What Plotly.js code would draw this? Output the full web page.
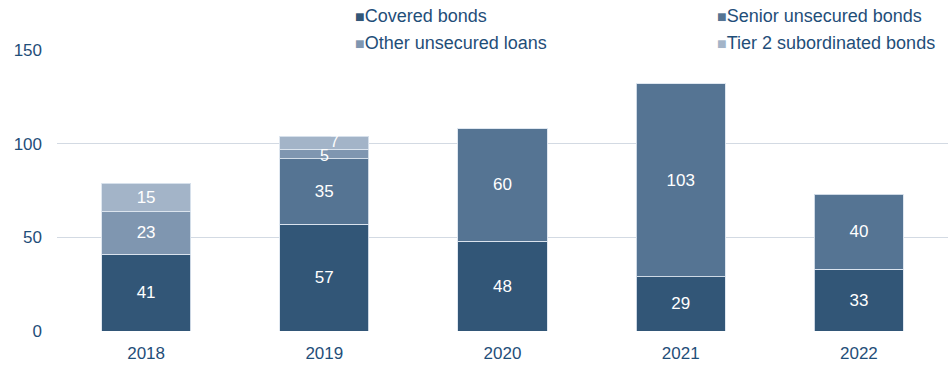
<!DOCTYPE html>
<html>
<head>
<meta charset="utf-8">
<script src="https://cdn.plot.ly/plotly-3.0.1.min.js"></script>
<style>html,body{margin:0;padding:0;background:#fff;}#chart{width:948px;height:365px;}</style>
</head>
<body>
<div id="chart"></div>
<script>
const years = ['2018', '2019', '2020', '2021', '2022'];
const seriesNames = ['Covered bonds', 'Senior unsecured bonds', 'Other unsecured loans', 'Tier 2 subordinated bonds'];
const coveredBonds = [41, 57, 48, 29, 33];
const seniorUnsecured = [null, 35, 60, 103, 40];
const otherUnsecuredLoans = [23, 5, null, null, null];
const tier2Subordinated = [15, 7, null, null, null];
const yTicks = [0, 50, 100, 150];

const colors = ['#325677', '#557493', '#7f96b0', '#a3b4c8'];
const seriesValues = [coveredBonds, seniorUnsecured, otherUnsecuredLoans, tier2Subordinated];
const font = 'Liberation Sans, Arial, sans-serif';
const textColor = '#1f4e79';
const SMALL = 10;

const traces = seriesValues.map((vals, i) => ({
  type: 'bar',
  name: seriesNames[i],
  x: years,
  y: vals,
  marker: {color: colors[i], line: {color: 'rgba(220,228,238,0.9)', width: 1}},
  text: vals.map(v => (v == null || v < SMALL) ? '' : String(v)),
  textposition: 'inside',
  insidetextanchor: 'middle',
  textangle: 0,
  constraintext: 'none',
  textfont: {family: font, size: 17, color: '#ffffff'},
  hoverinfo: 'x+y+name',
  showlegend: false
}));

// labels of thin segments, placed as annotations at segment centres (offset like the reference)
const annotations = [];
years.forEach((yr, j) => {
  let base = 0;
  seriesValues.forEach((vals, i) => {
    const v = vals[j];
    if (v == null) return;
    if (v < SMALL) {
      const isTop = seriesValues.slice(i + 1).every(s => s[j] == null);
      annotations.push({
        x: j, y: base + v / 2, xref: 'x', yref: 'y',
        showarrow: false, text: String(v),
        xshift: isTop ? 10 : 0, yshift: isTop ? 1 : -2,
        font: {family: font, size: 16, color: '#ffffff'}
      });
    }
    base += v;
  });
});

// legend drawn as annotations (2 columns)
const legendPos = [
  {x: 353, y: 16}, {x: 715, y: 16},
  {x: 353, y: 43}, {x: 715, y: 43}
];
seriesNames.forEach((n, i) => annotations.push({
  xref: 'paper', yref: 'paper',
  x: (legendPos[i].x - 57) / 891,
  y: 1 + (50 - legendPos[i].y) / 281,
  xanchor: 'left', yanchor: 'middle',
  showarrow: false,
  text: '<span style="color:' + colors[i] + ';font-size:16px">■</span>' + n,
  font: {family: font, size: 18, color: textColor}
}));

const layout = {
  width: 948, height: 365,
  margin: {l: 57, r: 0, t: 50, b: 34},
  paper_bgcolor: '#ffffff', plot_bgcolor: '#ffffff',
  barmode: 'stack',
  bargap: 0.5,
  showlegend: false,
  xaxis: {
    type: 'category',
    categoryarray: years,
    range: [-0.5, years.length - 0.5],
    tickfont: {family: font, size: 17, color: textColor},
    showgrid: false, zeroline: false, showline: false,
    ticks: '', ticklen: 0, ticklabelstandoff: 10
  },
  yaxis: {
    range: [0, 150],
    tickvals: yTicks,
    ticktext: yTicks.map(String),
    tickfont: {family: font, size: 17, color: textColor},
    showgrid: true, gridcolor: '#d3dae3', gridwidth: 1.5,
    zeroline: false, showline: false,
    ticks: '', ticklabelstandoff: 14
  },
  annotations: annotations
};

Plotly.newPlot('chart', traces, layout, {displayModeBar: false, staticPlot: true});
</script>
</body>
</html>
